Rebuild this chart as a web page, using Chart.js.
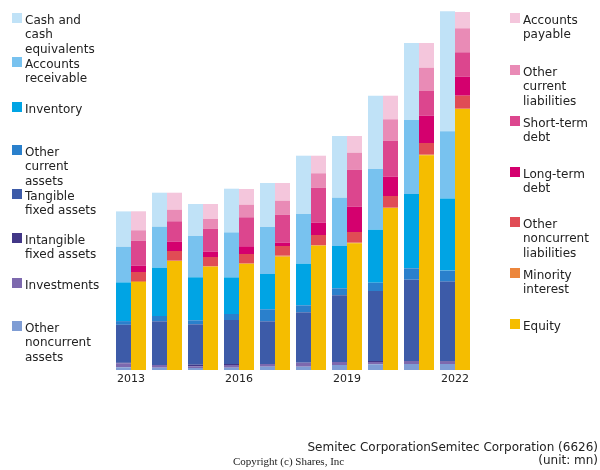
<!DOCTYPE html>
<html>
<head>
<meta charset="utf-8">
<script src="https://cdn.jsdelivr.net/npm/chart.js@4/dist/chart.umd.min.js"></script>
<style>
  html, body { margin: 0; padding: 0; background: #fff; }
  #wrap { position: relative; width: 600px; height: 470px; overflow: hidden; font-family: "DejaVu Sans", sans-serif; color: #222; }
  #c { position: absolute; left: 0; top: 0; }
  .item { position: absolute; font-size: 12px; line-height: 14.8px; white-space: nowrap; }
  .box { position: absolute; left: 0; width: 10px; height: 10px; }
  .txt { position: absolute; left: 13px; top: -0.5px; }
  .foot { position: absolute; font-size: 12px; line-height: 13px; white-space: nowrap; }
</style>
</head>
<body>
<div id="wrap">
  <canvas id="c" width="600" height="470"></canvas>
  <div id="legL"></div>
  <div id="legR"></div>
  <div class="foot" style="right:2px; top:441px; text-align:right;">Semitec CorporationSemitec Corporation (6626)<br>(unit: mn)</div>
  <div class="foot" style="left:233px; top:455px; font-family:'Liberation Serif', 'Times New Roman', serif; font-size:11px;">Copyright (c) Shares, Inc</div>
</div>
<script>
// ---- Data (arbitrary units, unit: mn) ----
const years = ['2013','2014','2015','2016','2017','2018','2019','2020','2021','2022'];
const tickLabels = ['2013','','','2016','','','2019','','','2022'];

// Assets
const cashEquivalents   = [35.4, 34.0, 32.0, 43.7, 44.0, 58.3, 61.7, 73.3, 77.0, 120.0];
const accountsReceivable= [35.6, 41.0, 41.3, 45.0, 47.0, 49.7, 48.3, 60.7, 74.0, 67.3];
const inventory         = [38.7, 48.3, 43.0, 36.6, 35.3, 41.6, 42.3, 53.0, 74.3, 72.0];
const otherCurrentAssets= [3.7, 5.3, 4.0, 6.0, 12.0, 7.0, 7.0, 8.3, 11.4, 11.0];
const tangibleFixed     = [38.0, 43.7, 40.4, 44.0, 42.7, 50.4, 66.7, 70.0, 81.3, 79.4];
const intangibleFixed   = [0.5, 0.0, 1.6, 1.0, 0.0, 0.0, 0.0, 1.0, 0.0, 0.7];
const investments       = [4.0, 2.7, 1.7, 2.7, 2.7, 4.0, 3.0, 2.3, 3.0, 2.3];
const otherNoncurrentAssets = [2.7, 2.3, 2.0, 2.3, 3.3, 3.3, 5.0, 5.7, 6.0, 6.0];

// Liabilities & equity
const accountsPayable   = [19.0, 17.0, 15.0, 15.7, 17.7, 17.6, 16.7, 23.6, 24.7, 16.3];
const otherCurrentLiab  = [10.4, 11.6, 9.7, 12.6, 14.0, 14.4, 17.0, 21.4, 23.3, 24.0];
const shortTermDebt     = [25.0, 20.4, 23.0, 29.0, 28.0, 35.0, 37.0, 36.0, 24.7, 24.4];
const longTermDebt      = [6.3, 9.3, 5.3, 7.7, 3.3, 12.3, 25.3, 19.3, 27.3, 19.0];
const otherNoncurrentLiab = [9.0, 9.7, 9.0, 9.3, 9.7, 10.0, 10.7, 11.7, 11.7, 13.0];
const minorityInterest  = [1.0, 0.3, 0.7, 0.7, 1.0, 0.7, 0.6, 0.3, 0.6, 0.3];
const equity            = [88.0, 109.0, 103.3, 106.0, 113.3, 124.3, 126.7, 162.0, 214.7, 261.0];

// ---- Series definitions (bottom to top in each stack) ----
const assetSeries = [
  ['Other noncurrent assets', otherNoncurrentAssets, '#7f9dd4'],
  ['Investments', investments, '#7d69ae'],
  ['Intangible fixed assets', intangibleFixed, '#423787'],
  ['Tangible fixed assets', tangibleFixed, '#3d5ba8'],
  ['Other current assets', otherCurrentAssets, '#2a80cc'],
  ['Inventory', inventory, '#00a4e4'],
  ['Accounts receivable', accountsReceivable, '#78c2ef'],
  ['Cash and cash equivalents', cashEquivalents, '#c0e2f7']
];
const liabSeries = [
  ['Equity', equity, '#f5bd00'],
  ['Minority interest', minorityInterest, '#ec863c'],
  ['Other noncurrent liabilities', otherNoncurrentLiab, '#e04c55'],
  ['Long-term debt', longTermDebt, '#d4006e'],
  ['Short-term debt', shortTermDebt, '#dc468e'],
  ['Other current liabilities', otherCurrentLiab, '#e98bb6'],
  ['Accounts payable', accountsPayable, '#f4c6dc']
];

const datasets = [];
assetSeries.forEach(([label, data, color]) => datasets.push({ label, data, backgroundColor: color, stack: 'assets', borderWidth: 0 }));
liabSeries.forEach(([label, data, color]) => datasets.push({ label, data, backgroundColor: color, stack: 'liab', borderWidth: 0 }));

new Chart(document.getElementById('c'), {
  type: 'bar',
  data: { labels: years, datasets },
  options: {
    responsive: false,
    animation: false,
    events: [],
    layout: { padding: { left: 113, right: 127, top: 0, bottom: 80 } },
    plugins: { legend: { display: false }, tooltip: { enabled: false } },
    datasets: { bar: { categoryPercentage: 30/36, barPercentage: 1.0 } },
    scales: {
      x: {
        stacked: true,
        grid: { display: false, drawTicks: false },
        border: { display: false },
        ticks: {
          autoSkip: false, maxRotation: 0, padding: 3,
          color: '#222',
          font: { family: 'DejaVu Sans', size: 11 },
          callback: (v, i) => tickLabels[i]
        },
        afterFit: (s) => { s.height = 20; }
      },
      y: {
        stacked: true, display: false, min: 0, max: 370
      }
    }
  }
});

// ---- HTML legends (real text) ----
const leftLegend = [
  ['Cash and<br>cash<br>equivalents', '#c0e2f7', 13],
  ['Accounts<br>receivable', '#78c2ef', 57],
  ['Inventory', '#00a4e4', 102],
  ['Other<br>current<br>assets', '#2a80cc', 145],
  ['Tangible<br>fixed assets', '#3d5ba8', 189],
  ['Intangible<br>fixed assets', '#423787', 233],
  ['Investments', '#7d69ae', 278],
  ['Other<br>noncurrent<br>assets', '#7f9dd4', 321]
];
const rightLegend = [
  ['Accounts<br>payable', '#f4c6dc', 13],
  ['Other<br>current<br>liabilities', '#e98bb6', 65],
  ['Short-term<br>debt', '#dc468e', 116],
  ['Long-term<br>debt', '#d4006e', 167],
  ['Other<br>noncurrent<br>liabilities', '#e04c55', 217],
  ['Minority<br>interest', '#ec863c', 268],
  ['Equity', '#f5bd00', 319]
];
function buildLegend(el, items, x) {
  items.forEach(([text, color, y]) => {
    const d = document.createElement('div');
    d.className = 'item';
    d.style.left = x + 'px';
    d.style.top = y + 'px';
    d.innerHTML = '<span class="box" style="background:' + color + '"></span><span class="txt">' + text + '</span>';
    el.appendChild(d);
  });
}
buildLegend(document.getElementById('legL'), leftLegend, 12);
buildLegend(document.getElementById('legR'), rightLegend, 510);
</script>
</body>
</html>
